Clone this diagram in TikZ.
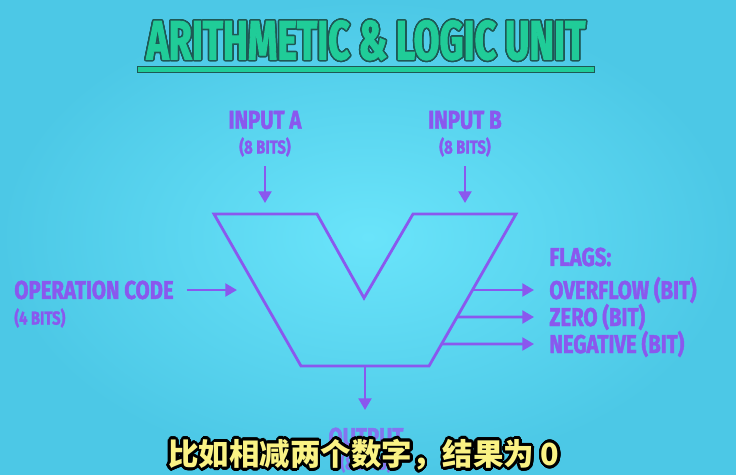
\documentclass[tikz,border=0pt]{standalone}
\usepackage{fontspec}
\usepackage{contour}
\usetikzlibrary{
  arrows.meta,
  positioning,
  calc
}
\newfontfamily\alufont[FakeStretch=0.79,BoldFeatures={FakeBold=1.6}]{Fira Sans}
\newfontfamily\titlefont[FakeStretch=0.68,BoldFeatures={FakeBold=1.6}]{Fira Sans}
\newfontfamily\cjkfont{Noto Sans CJK SC}
\definecolor{bglight}{RGB}{106,228,250}
\definecolor{bgdark}{RGB}{76,200,230}
\definecolor{alupurple}{RGB}{138,88,238}
\definecolor{titlegreen}{RGB}{32,204,152}
\definecolor{titleedge}{RGB}{30,88,84}
\definecolor{subyellow}{RGB}{250,242,132}

\begin{document}
\begin{tikzpicture}[
  x=0.03cm, y=-0.03cm,
  lbl/.style ={font=\alufont\bfseries\fontsize{22}{24}\selectfont,
               text=alupurple, inner sep=1pt},
  bits/.style={lbl, font=\alufont\bfseries\fontsize{16}{18}\selectfont},
  alu/.style ={draw=alupurple, line width=2.4pt, line join=miter},
  arr/.style ={-{Triangle[length=10pt,width=11pt]}, line width=2.3pt,
               draw=alupurple},
]
% background
\shade[inner color=bglight, outer color=bgdark] (0,0) rectangle (736,474);
\useasboundingbox (0,0) rectangle (736,474);

% title
\contourlength{1.3pt}
\node (title) at (366,41)
  {\titlefont\bfseries\fontsize{47}{50}\selectfont
   \contour[24]{titleedge}{\textcolor{titlegreen}{ARITHMETIC \& LOGIC UNIT}}};
\draw[draw=titleedge, fill=titlegreen, line width=0.8pt]
  (137,66) rectangle (594,72);

% ALU body
\coordinate (tl)  at (214,214);
\coordinate (til) at (317,214);
\coordinate (v)   at (364,298);
\coordinate (tir) at (413,214);
\coordinate (tr)  at (516,214);
\coordinate (br)  at (429,366);
\coordinate (bl)  at (301,366);
\draw[alu] (tl) -- (til) -- (v) -- (tir) -- (tr) -- (br) -- (bl) -- cycle;

% inputs
\node[lbl]  (inA)     at (265,120) {INPUT A};
\node[bits] (inAbits) at (265,147) {(8 BITS)};
\node[lbl]  (inB)     at (465,120) {INPUT B};
\node[bits] (inBbits) at (465,147) {(8 BITS)};
\coordinate (inAtip) at (265,203);
\coordinate (inBtip) at (465,203);
\draw[arr, shorten <=7pt] (inAbits) -- (inAtip);
\draw[arr, shorten <=7pt] (inBbits) -- (inBtip);

% operation code
\node[lbl, anchor=west]  (opc)     at (13,290) {OPERATION CODE};
\node[bits, anchor=west] (opcbits) at (13,318) {(4 BITS)};
\coordinate (opctip) at (237,290);
\draw[arr, shorten <=10pt] (opc.east) -- (opctip);

% flags
\node[lbl, anchor=west] (flags) at (548,257) {FLAGS:};
\node[lbl, anchor=west] (ovf)   at (548,290) {OVERFLOW (BIT)};
\node[lbl, anchor=west] (zero)  at (548,317) {ZERO (BIT)};
\node[lbl, anchor=west] (neg)   at (548,344) {NEGATIVE (BIT)};
\coordinate (flagtip) at (534,0);
\draw[arr] ($(tr)!0.5!(br)$)   -- (ovf.west -| flagtip);
\draw[arr] ($(tr)!0.678!(br)$) -- (zero.west -| flagtip);
\draw[arr] ($(tr)!0.855!(br)$) -- (neg.west -| flagtip);

% output
\node[lbl, text=alupurple!80!bglight]  (out)     at (366,437) {OUTPUT};
\node[bits, text=alupurple!80!bglight] (outbits) at (366,463) {(8 BITS)};
\coordinate (outtip) at (365,410);
\draw[arr] ($(bl)!0.5!(br)$) -- (outtip);

% subtitle
\contourlength{2.2pt}
\node (subtitle) at (364,456)
  {\cjkfont\bfseries\fontsize{26}{28}\selectfont
   \contour[32]{black}{\textcolor{subyellow}{比如相减两个数字，结果为 0}}};
\end{tikzpicture}
\end{document}
